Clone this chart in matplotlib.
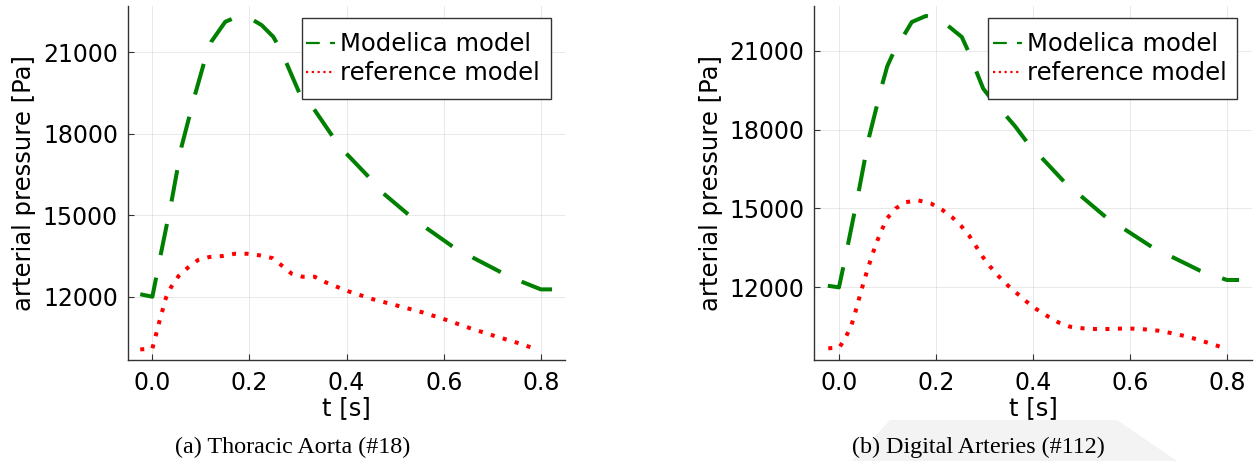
import matplotlib
matplotlib.use("Agg")
import matplotlib.pyplot as plt
from matplotlib.patches import Polygon, Rectangle
from matplotlib.lines import Line2D

# ---------------- data ----------------
# (a) Thoracic Aorta (#18)
a_mod_t = [-0.025, 0.0, 0.017, 0.040, 0.060, 0.088, 0.107, 0.121, 0.150, 0.166, 0.185,
           0.208, 0.225, 0.249, 0.256, 0.275, 0.303, 0.332, 0.371, 0.399, 0.445, 0.476,
           0.527, 0.565, 0.619, 0.660, 0.718, 0.761, 0.800, 0.824]
a_mod_p = [12090, 12000, 13535, 15560, 17520, 19450, 20650, 21380, 22120, 22245, 22290,
           22180, 22000, 21570, 21350, 20650, 19490, 18930, 17910, 17280, 16420, 15800,
           15030, 14520, 13840, 13440, 12900, 12550, 12270, 12270]
a_ref_t = [-0.025, 0.0, 0.014, 0.028, 0.039, 0.054, 0.073, 0.094, 0.117, 0.144, 0.170,
           0.195, 0.221, 0.247, 0.267, 0.287, 0.309, 0.334, 0.357, 0.381, 0.406, 0.455,
           0.505, 0.556, 0.606, 0.655, 0.705, 0.755, 0.779]
a_ref_p = [10060, 10090, 11057, 11963, 12368, 12762, 13067, 13350, 13461, 13498, 13582,
           13582, 13523, 13424, 13141, 12846, 12736, 12736, 12530, 12357, 12184, 11904,
           11669, 11426, 11143, 10837, 10554, 10285, 10138]

# (b) Digital Arteries (#112)
b_mod_t = [-0.023, 0.0, 0.009, 0.018, 0.0405, 0.062, 0.089, 0.0995, 0.112, 0.150, 0.179,
           0.195, 0.223, 0.253, 0.266, 0.297, 0.3075, 0.3625, 0.387, 0.464, 0.549, 0.644,
           0.744, 0.799, 0.824]
b_mod_p = [12060, 12000, 12780, 13580, 15630, 17720, 19710, 20410, 20915, 22090, 22320,
           22280, 21970, 21520, 20990, 19560, 19310, 18130, 17530, 16010, 14680, 13540,
           12630, 12280, 12280]
b_ref_t = [-0.022, 0.0006, 0.0138, 0.0254, 0.033, 0.0398, 0.0467, 0.0542, 0.0618, 0.070,
           0.0789, 0.0886, 0.0995, 0.1168, 0.138, 0.1633, 0.189, 0.2115, 0.2327, 0.2513,
           0.2678, 0.282, 0.296, 0.3117, 0.329, 0.3475, 0.3666, 0.3866, 0.4072, 0.429,
           0.4517, 0.4758, 0.502, 0.528, 0.554, 0.580, 0.606, 0.632, 0.658, 0.6835, 0.709,
           0.735, 0.7594, 0.785]
b_ref_p = [9682, 9705, 10100, 10541, 11012, 11468, 11924, 12403, 12847, 13315, 13771,
           14204, 14633, 15002, 15241, 15306, 15192, 14964, 14671, 14341, 13976, 13569,
           13163, 12783, 12418, 12076, 11772, 11453, 11164, 10909, 10669, 10503, 10442,
           10415, 10415, 10430, 10430, 10400, 10351, 10263, 10161, 10035, 9895, 9743]

x_ticks = [0.0, 0.2, 0.4, 0.6, 0.8]
x_tick_labels = ["0.0", "0.2", "0.4", "0.6", "0.8"]
y_ticks = [12000, 15000, 18000, 21000]
y_tick_labels = ["12000", "15000", "18000", "21000"]
series_labels = ["Modelica model", "reference model"]
captions = ["(a) Thoracic Aorta (#18)", "(b) Digital Arteries (#112)"]
x_label = "t [s]"
y_label = "arterial pressure [Pa]"

# ---------------- figure ----------------
W, H = 1255, 461
plt.rcParams['font.family'] = ['DejaVu Sans']
fig = plt.figure(figsize=(W / 100, H / 100), dpi=100)


def fx(px):
    return px / W


def fy(py):
    return 1 - py / H


# light watermark shape behind the right caption
wm = [(852, 461), (890, 420), (1117, 420), (1177, 461)]
fig.patches.append(Polygon([(fx(x), fy(y)) for x, y in wm], closed=True,
                           transform=fig.transFigure, facecolor='#f3f3f3',
                           edgecolor='none', zorder=-5))

panels = [
    dict(left=127.7, mod=(a_mod_t, a_mod_p), ref=(a_ref_t, a_ref_p), ylim=(9670, 22704),
         cap_x=292.5, cap=captions[0], leg=(301.7, 18.3, 551.0, 99.3)),
    dict(left=814.3, mod=(b_mod_t, b_mod_p), ref=(b_ref_t, b_ref_p), ylim=(9237, 22699),
         cap_x=978.0, cap=captions[1], leg=(988.3, 18.3, 1237.3, 99.3)),
]

GREEN, RED = '#008000', '#ff0000'
ax_w = 437.4
ax_top, ax_bot = 6.0, 360.0
lw = 2.9
for p in panels:
    ax = fig.add_axes([fx(p['left']), fy(ax_bot), ax_w / W, (ax_bot - ax_top) / H])
    ax.patch.set_alpha(0)
    ax.plot(p['mod'][0], p['mod'][1], color=GREEN, lw=lw,
            linestyle=(0, (7.9, 5.7)), dash_capstyle='butt')
    ax.plot(p['ref'][0], p['ref'][1], color=RED, lw=lw,
            linestyle=(0, (1.0, 2.1)), dash_capstyle='butt')
    ax.set_xlim(-0.0508, 0.850)
    ax.set_ylim(*p['ylim'])
    ax.set_xticks(x_ticks)
    ax.set_xticklabels(x_tick_labels)
    ax.set_yticks(y_ticks)
    ax.set_yticklabels(y_tick_labels)
    ax.grid(True, color='black', alpha=0.1, lw=0.6)
    ax.set_axisbelow(True)
    for s in ['top', 'right']:
        ax.spines[s].set_visible(False)
    for s in ['left', 'bottom']:
        ax.spines[s].set_color('#333333')
        ax.spines[s].set_linewidth(1.0)
    ax.tick_params(direction='in', length=4, width=0.8, color='#333333',
                   labelsize=17, labelcolor='black')
    ax.tick_params(axis='x', pad=8)
    ax.tick_params(axis='y', pad=7)
    ax.set_xlabel(x_label, fontsize=17.5, labelpad=1)
    ax.set_ylabel(y_label, fontsize=17.5, labelpad=5)

    # legend box (wide vertical padding, narrow horizontal padding)
    x0, y0, x1, y1 = p['leg']
    ax.add_patch(Rectangle((fx(x0), fy(y1)), (x1 - x0) / W, (y1 - y0) / H,
                           transform=fig.transFigure, facecolor='white',
                           edgecolor='#333333', lw=1.0, zorder=4.5, clip_on=False))
    h_mod = Line2D([], [], color=GREEN, lw=1.6, linestyle=(0, (6.2, 4.6)),
                   dash_capstyle='butt')
    h_ref = Line2D([], [], color=RED, lw=1.6, linestyle=(0, (1.0, 1.6)),
                   dash_capstyle='butt')
    leg = ax.legend([h_mod, h_ref], series_labels, loc='center left',
                    bbox_to_anchor=(fx(x0 + 4.3), fy((y0 + y1) / 2)),
                    bbox_transform=fig.transFigure, borderaxespad=0,
                    fontsize=17.5, frameon=False, handlelength=1.2,
                    handletextpad=0.2, labelspacing=0.2, borderpad=0)
    leg.set_zorder(5)
    fig.text(fx(p['cap_x']), fy(453.3), p['cap'], ha='center', va='baseline',
             fontsize=17.4, family=['Liberation Serif', 'DejaVu Serif'], zorder=2)

fig.savefig('out.png', dpi=100)
